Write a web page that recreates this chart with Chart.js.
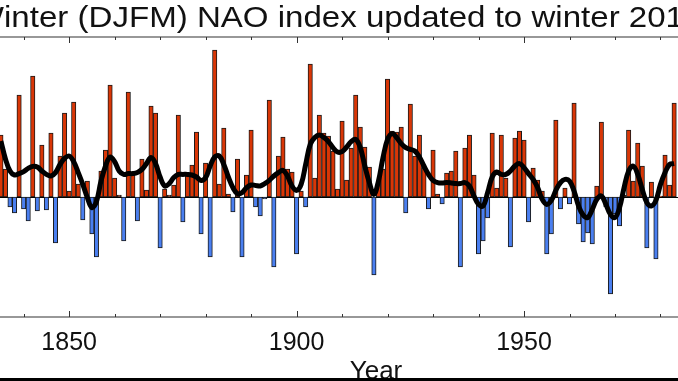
<!DOCTYPE html>
<html>
<head>
<meta charset="utf-8">
<script src="https://cdn.jsdelivr.net/npm/chart.js@4"></script>
<style>
  html, body { margin: 0; padding: 0; background: #fff; }
  #wrap { width: 678px; height: 381px; position: relative; }
</style>
</head>
<body>
<div id="wrap"><canvas id="naoChart"></canvas></div>
<script>
// winter (DJFM) NAO index, one value per year from 1835
const firstYear = 1835;
const naoIndex = [
    3.1, 1.4, -0.5, -0.8, 5.1,
    -0.6, -1.2, 6.05, -0.7, 2.6, -0.65, 3.2, -2.3, 2.05, 4.2,
    0.3, 4.75, 0.65, -1.15, 0.8, -1.85, -3.0, 1.3, 2.35, 5.6,
    0.95, 0.1, -2.2, 5.25, 1.1, -1.2, 1.9, 0.35, 4.55, 4.2,
    -2.55, 0.4, 0.1, 0.6, 4.1, -1.25, 1.1, 1.6, 3.25, -1.85,
    1.7, -3.0, 7.35, 0.65, 3.45, 0.15, -0.75, 1.9, -3.0, 1.1,
    3.35, -0.5, -0.95, -0.1, 4.85, -3.5, 2.05, 3.0, 1.4, 1.25,
    -2.85, 0.3, -0.5, 6.65, 0.95, 4.1, 3.2, 3.05, 2.3, 0.4,
    3.8, 0.85, 2.45, 5.1, 3.5, 2.5, 1.5, -3.9, 0.8, 1.4,
    5.9, 3.3, 3.25, 3.5, -0.8, 4.65, 2.05, 3.1, 1.45, -0.6,
    2.35, 0.15, -0.35, 1.2, 1.3, 2.3, -3.5, 2.45, 3.1, 1.1,
    -2.85, -2.2, -1.05, 3.2, 0.45, 3.1, 0.95, -2.5, 2.95, 3.3,
    2.85, -1.25, 1.45, 0.85, 0.3, -2.85, -1.85, 3.85, -0.6, 0.45,
    -0.35, 4.7, -1.35, -2.25, -1.8, -2.35, 0.55, 3.75, -0.5, -4.85,
    -0.85, -1.45, 0.1, 3.35, 0.8, 2.7, 1.55, -2.55, 0.75, -3.1,
    0.05, 2.1, 0.6, 4.7
];
// low-pass filtered curve (black line)
const smoothed = [
    2.8, 1.9, 1.3, 1.1, 1.17,
    1.27, 1.43, 1.53, 1.5, 1.3, 1.13, 1.05, 1.22, 1.63, 1.93,
    2.05, 1.77, 1.22, 0.63, -0.03, -0.53, -0.23, 0.8, 1.55, 2.0,
    1.77, 1.3, 1.13, 1.17, 1.17, 1.22, 1.38, 1.67, 1.97, 1.67,
    1.0, 0.55, 0.67, 0.97, 1.13, 1.13, 1.13, 1.1, 1.0, 0.83,
    0.97, 1.55, 2.0, 2.05, 1.63, 1.0, 0.47, 0.17, 0.22, 0.47,
    0.6, 0.58, 0.55, 0.67, 0.83, 1.05, 1.22, 1.33, 1.05, 0.55,
    0.33, 0.63, 1.63, 2.63, 2.97, 3.1, 2.97, 2.77, 2.47, 2.25,
    2.27, 2.5, 2.77, 2.88, 2.47, 1.55, 0.72, 0.13, 0.8, 1.97,
    2.88, 3.17, 2.97, 2.67, 2.47, 2.38, 2.3, 2.0, 1.55, 1.13,
    0.83, 0.72, 0.7, 0.72, 0.7, 0.67, 0.67, 0.72, 0.55, 0.05,
    -0.37, -0.45, 0.22, 1.0, 1.25, 1.13, 1.13, 1.3, 1.55, 1.67,
    1.47, 1.17, 0.88, 0.47, -0.12, -0.37, -0.17, 0.33, 0.72, 0.88,
    0.8, 0.3, -0.45, -0.9, -1.03, -0.62, -0.12, 0.05, -0.37, -0.87,
    -1.03, -0.53, 0.47, 1.3, 1.55, 1.13, 0.38, -0.28, -0.45, -0.17,
    0.63, 1.22, 1.63, 1.67
];
const majorTicks = [1850, 1900, 1950];
const minorTicks = [1840, 1860, 1870, 1880, 1890, 1910, 1920, 1930, 1940, 1960, 1970, 1980];
const titleText = 'Winter (DJFM) NAO index updated to winter 2013/14';
const xTitle = 'Year';

const years = naoIndex.map((_, i) => firstYear + i);

const frame = {
    id: 'frame',
    beforeDatasetsDraw(chart) {
        const { ctx, chartArea: a, scales } = chart;
        const y0 = scales.y.getPixelForValue(0);
        ctx.save();
        ctx.strokeStyle = '#000';
        ctx.lineWidth = 1;
        ctx.beginPath();
        ctx.moveTo(a.left, Math.round(y0) + 0.5);
        ctx.lineTo(a.right, Math.round(y0) + 0.5);
        ctx.stroke();
        ctx.restore();
    },
    afterDraw(chart) {
        const { ctx, chartArea: a, scales } = chart;
        const x = scales.x;
        ctx.save();
        // box top/bottom
        ctx.strokeStyle = '#777';
        ctx.lineWidth = 1.5;
        ctx.beginPath();
        ctx.moveTo(a.left, a.top); ctx.lineTo(a.right, a.top);
        ctx.moveTo(a.left, a.bottom); ctx.lineTo(a.right, a.bottom);
        ctx.stroke();
        // inward ticks
        ctx.strokeStyle = '#333';
        ctx.lineWidth = 1;
        const tick = (yr, len) => {
            const px = Math.round(x.getPixelForValue(yr)) + 0.5;
            ctx.beginPath();
            ctx.moveTo(px, a.top); ctx.lineTo(px, a.top + len);
            ctx.moveTo(px, a.bottom); ctx.lineTo(px, a.bottom - len);
            ctx.stroke();
        };
        minorTicks.forEach(t => tick(t, 3));
        majorTicks.forEach(t => tick(t, 6));
        // tick labels
        ctx.fillStyle = '#111';
        ctx.font = '25px "Liberation Sans", Arial, sans-serif';
        ctx.textAlign = 'center';
        ctx.textBaseline = 'alphabetic';
        majorTicks.forEach(t => ctx.fillText(String(t), x.getPixelForValue(t), 350));
        // axis title
        ctx.font = '26px "Liberation Sans", Arial, sans-serif';
        ctx.fillText(xTitle, 376, 379);
        // title, cut off at both sides like the source (a little wider glyphs)
        ctx.font = '29px "Liberation Sans", Arial, sans-serif';
        ctx.textAlign = 'left';
        const w = ctx.measureText('Winter (DJFM) NAO index updated to winter 201').width;
        const wLead = ctx.measureText('W').width;
        const sx = 680 / (w - wLead);
        ctx.translate(4 - wLead * sx, 0);
        ctx.scale(sx, 1);
        ctx.fillText(titleText, 0, 27);
        ctx.setTransform(1, 0, 0, 1, 0, 0);
        // dark strip along the bottom edge
        ctx.fillStyle = '#000';
        ctx.fillRect(0, 378, chart.width, 3);
        ctx.restore();
    }
};

new Chart(document.getElementById('naoChart'), {
    type: 'bar',
    data: {
        datasets: [{
            type: 'line',
            data: years.map((yr, i) => ({ x: yr, y: smoothed[i] })),
            borderColor: '#000',
            borderWidth: 5,
            pointRadius: 0,
            tension: 0.4,
            fill: false,
            order: 0
        }, {
            type: 'bar',
            data: years.map((yr, i) => ({ x: yr, y: naoIndex[i] })),
            backgroundColor: naoIndex.map(v => v >= 0 ? '#d93606' : '#4a7ff0'),
            borderColor: '#1a1a1a',
            borderWidth: 1,
            borderSkipped: false,
            barThickness: 4.4,
            order: 1
        }]
    },
    options: {
        responsive: true,
        maintainAspectRatio: false,
        animation: false,
        layout: { padding: { top: 37, bottom: 64, left: 0, right: 0 } },
        scales: {
            x: { type: 'linear', min: 1834.8, max: 1983.85, display: false, offset: false },
            y: { min: -6, max: 8, display: false }
        },
        plugins: {
            legend: { display: false },
            tooltip: { enabled: false }
        }
    },
    plugins: [frame]
});
</script>
</body>
</html>
